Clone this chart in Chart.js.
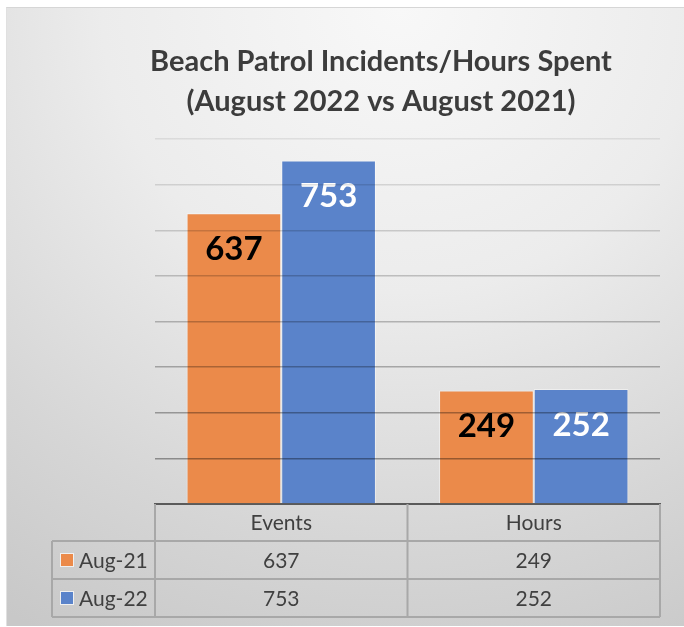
<!DOCTYPE html>
<html>
<head>
<meta charset="utf-8">
<script src="https://cdn.jsdelivr.net/npm/chart.js@4.4.1/dist/chart.umd.min.js"></script>
<style>
  html, body { margin: 0; padding: 0; background: #ffffff; }
  #wrap { position: relative; width: 684px; height: 627px; overflow: hidden; }
  #bg { position: absolute; left: 6px; top: 7px; width: 678px; height: 618px;
        border-top: 1px solid #d6d6d6; border-left: 1px solid #e0e0e0;
        background: radial-gradient(ellipse 110% 115% at 58% 0%, #f8f8f8 0%, #ececec 40%, #d6d6d6 75%, #c8c8c8 100%); }
  canvas { position: absolute; left: 0; top: 0; }
</style>
</head>
<body>
<div id="wrap">
  <div id="bg"></div>
  <canvas id="c" width="684" height="627"></canvas>
</div>
<script>
const titleLines = ['Beach Patrol Incidents/Hours Spent', '(August 2022 vs August 2021)'];
const categories = ['Events', 'Hours'];
const seriesNames = ['Aug-21', 'Aug-22'];
const aug21 = [637, 249];
const aug22 = [753, 252];
const yTicks = [0, 100, 200, 300, 400, 500, 600, 700, 800];

const colors = ['#EB8A4A', '#5A83CA'];
const labelColors = ['#000000', '#ffffff'];
const textColor = '#404040';
const lineColor = '#a8a8a8';
const FONT = 'Lato, "Open Sans", sans-serif';

const titlePlugin = {
  id: 'customTitle',
  afterDraw(chart) {
    const ctx = chart.ctx;
    ctx.save();
    ctx.fillStyle = '#3c3c3c';
    ctx.font = 'bold 29px ' + FONT;
    ctx.textAlign = 'center';
    ctx.textBaseline = 'middle';
    ctx.fillText(titleLines[0], 381, 62);
    ctx.fillText(titleLines[1], 381, 102);
    ctx.restore();
  }
};

const valueLabels = {
  id: 'valueLabels',
  afterDatasetsDraw(chart) {
    const ctx = chart.ctx;
    ctx.save();
    ctx.font = 'bold 33px ' + FONT;
    ctx.textAlign = 'center';
    ctx.textBaseline = 'middle';
    chart.data.datasets.forEach((ds, di) => {
      const meta = chart.getDatasetMeta(di);
      meta.data.forEach((bar, i) => {
        ctx.fillStyle = labelColors[di];
        ctx.fillText(String(ds.data[i]), bar.x, bar.y + 36);
      });
    });
    ctx.restore();
  }
};

const dataTable = {
  id: 'dataTable',
  afterDraw(chart) {
    const ctx = chart.ctx;
    const area = chart.chartArea;
    const xs = chart.scales.x;
    const left = area.left, right = area.right;
    const mid = (xs.getPixelForValue(0) + xs.getPixelForValue(1)) / 2;
    const legendLeft = 52;
    const rowTops = [area.bottom, 541, 579, 617];
    ctx.save();
    ctx.strokeStyle = lineColor;
    ctx.lineWidth = 2;
    ctx.beginPath();
    ctx.moveTo(left, rowTops[0]); ctx.lineTo(left, rowTops[3]);
    ctx.moveTo(mid, rowTops[0]); ctx.lineTo(mid, rowTops[3]);
    ctx.moveTo(right, rowTops[0]); ctx.lineTo(right, rowTops[3]);
    ctx.moveTo(legendLeft, rowTops[1]); ctx.lineTo(right, rowTops[1]);
    ctx.moveTo(legendLeft, rowTops[2]); ctx.lineTo(right, rowTops[2]);
    ctx.moveTo(legendLeft, rowTops[3]); ctx.lineTo(right, rowTops[3]);
    ctx.moveTo(legendLeft, rowTops[1]); ctx.lineTo(legendLeft, rowTops[3]);
    ctx.stroke();

    ctx.fillStyle = textColor;
    ctx.font = '21px ' + FONT;
    ctx.textAlign = 'center';
    ctx.textBaseline = 'middle';
    const colCenters = [(left + mid) / 2, (mid + right) / 2];
    categories.forEach((c, i) => ctx.fillText(c, colCenters[i], (rowTops[0] + rowTops[1]) / 2 + 1));
    const series = [aug21, aug22];
    series.forEach((vals, r) => {
      const cy = (rowTops[r + 1] + rowTops[r + 2]) / 2 + 1;
      vals.forEach((v, i) => {
        ctx.fillStyle = textColor;
        ctx.textAlign = 'center';
        ctx.fillText(String(v), colCenters[i], cy);
      });
      ctx.fillStyle = colors[r];
      ctx.fillRect(61, cy - 7, 12, 12);
      ctx.strokeStyle = 'rgba(255,255,255,0.7)';
      ctx.lineWidth = 1;
      ctx.strokeRect(60.5, cy - 7.5, 13, 13);
      ctx.fillStyle = textColor;
      ctx.textAlign = 'left';
      ctx.fillText(seriesNames[r], 79, cy);
    });
    ctx.restore();
  }
};

new Chart(document.getElementById('c'), {
  type: 'bar',
  data: {
    labels: categories,
    datasets: [
      { label: seriesNames[0], data: aug21, backgroundColor: colors[0],
        borderColor: 'rgba(255,255,255,0.45)', borderWidth: 1,
        categoryPercentage: 0.75, barPercentage: 1.0 },
      { label: seriesNames[1], data: aug22, backgroundColor: colors[1],
        borderColor: 'rgba(255,255,255,0.45)', borderWidth: 1,
        categoryPercentage: 0.75, barPercentage: 1.0 }
    ]
  },
  options: {
    responsive: false,
    animation: false,
    devicePixelRatio: 1,
    layout: { padding: { left: 155, right: 24, top: 139, bottom: 123 } },
    plugins: {
      legend: { display: false },
      title: { display: false },
      tooltip: { enabled: false }
    },
    scales: {
      x: {
        ticks: { display: false },
        grid: { display: false, drawTicks: false },
        border: { display: true, color: '#5a5a5a', width: 2 }
      },
      y: {
        min: yTicks[0],
        max: yTicks[yTicks.length - 1],
        afterBuildTicks(scale) { scale.ticks = yTicks.map(v => ({ value: v })); },
        ticks: { display: false },
        border: { display: false },
        grid: {
          drawTicks: false,
          z: 1,
          lineWidth: 1.5,
          color(ctx) {
            const i = ctx.index;
            if (i === 0) return 'rgba(0,0,0,0)';
            const a = 0.08 + 0.04 * (yTicks.length - 1 - i);
            return 'rgba(0,0,0,' + a.toFixed(3) + ')';
          }
        }
      }
    }
  },
  plugins: [titlePlugin, valueLabels, dataTable]
});
</script>
</body>
</html>
